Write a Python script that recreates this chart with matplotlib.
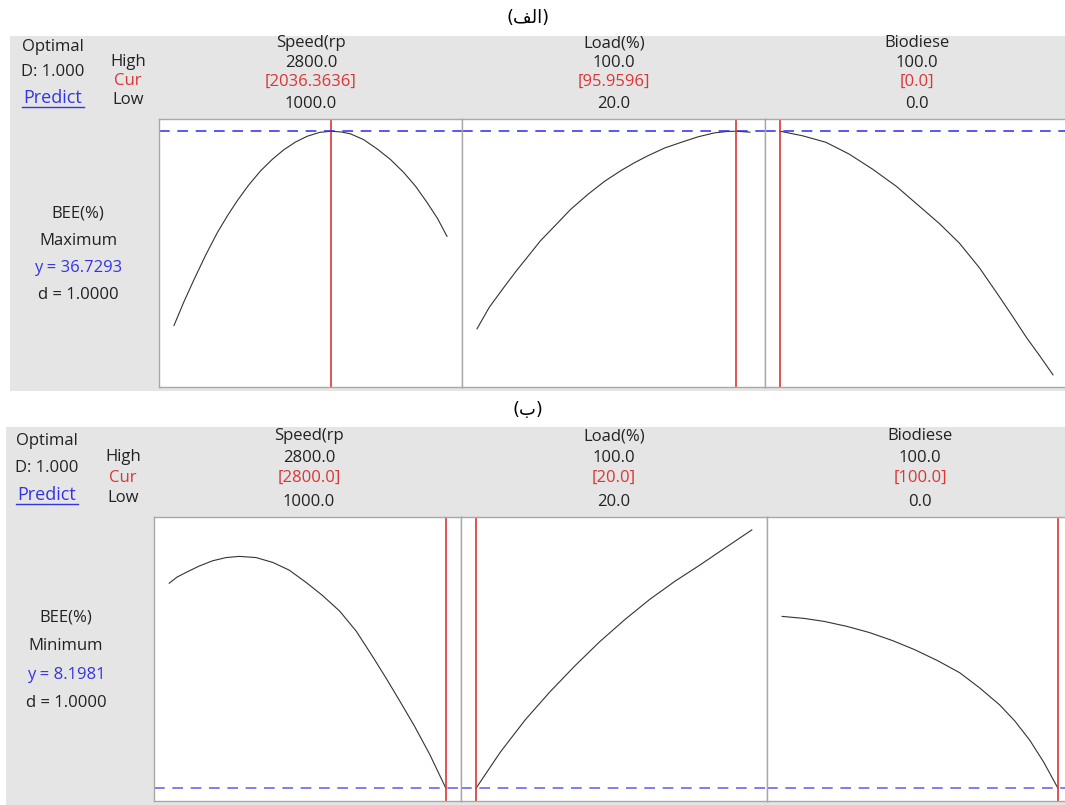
import matplotlib
matplotlib.use('Agg')
import matplotlib.pyplot as plt
from matplotlib.patches import Rectangle
from matplotlib.lines import Line2D

# factor settings
factors = ['Speed(rp', 'Load(%)', 'Biodiese']
highs = [2800.0, 100.0, 100.0]
lows = [1000.0, 20.0, 0.0]
cur_a = [2036.3636, 95.9596, 0.0]
cur_b = [2800.0, 20.0, 100.0]
cur_a_txt = ['[2036.3636]', '[95.9596]', '[0.0]']
cur_b_txt = ['[2800.0]', '[20.0]', '[100.0]']

# (a) maximise BEE
speed_a = [1000, 1064, 1132, 1209, 1286, 1354, 1418, 1492, 1571, 1650, 1725, 1802, 1879,
           1961, 2036, 2105, 2164, 2250, 2340, 2428, 2515, 2593, 2670, 2738, 2800]
bee_speed_a = [25.17, 26.55, 27.90, 29.36, 30.70, 31.72, 32.60, 33.52, 34.37, 35.07, 35.63, 36.09, 36.43,
               36.66, 36.73, 36.68, 36.57, 36.23, 35.67, 35.04, 34.27, 33.45, 32.47, 31.53, 30.47]
load_a = [20, 23.6, 28.0, 31.5, 34.9, 38.6, 42.7, 47.4, 52.5, 57.4, 62.3, 66.2, 70.1,
          75.0, 79.9, 84.7, 89.6, 93.2, 95.96, 100]
bee_load_a = [24.97, 26.25, 27.47, 28.41, 29.27, 30.21, 31.07, 32.07, 32.97, 33.75, 34.40, 34.86, 35.27,
              35.73, 36.07, 36.39, 36.63, 36.71, 36.73, 36.67]
bio_a = [0, 8.4, 16.8, 25.3, 33.9, 42.6, 51.0, 58.4, 65.7, 73.1, 80.4, 85.2, 90.2, 95.1, 100]
bee_bio_a = [36.73, 36.45, 36.07, 35.37, 34.47, 33.45, 32.27, 31.23, 30.07, 28.59, 26.87, 25.71,
             24.47, 23.37, 22.23]
y_a = 36.7293

# (b) minimise BEE
speed_b = [1000, 1050, 1109, 1194, 1283, 1370, 1457, 1565, 1674, 1781, 1892, 1996, 2109,
           2218, 2327, 2414, 2500, 2596, 2696, 2800]
bee_speed_b = [20.42, 20.78, 21.06, 21.44, 21.76, 21.95, 22.02, 21.95, 21.66, 21.20, 20.46, 19.70, 18.76,
               17.55, 16.00, 14.72, 13.40, 11.90, 10.20, 8.1981]
load_b = [20, 27.0, 34.2, 41.4, 48.7, 55.9, 63.2, 70.4, 77.7, 84.9, 92.2, 100]
bee_load_b = [8.1981, 10.34, 12.26, 13.94, 15.50, 16.94, 18.26, 19.46, 20.54, 21.50, 22.52, 23.60]
bio_b = [0, 8.0, 15.3, 23.6, 31.6, 40.0, 48.0, 56.4, 64.4, 71.6, 78.9, 84.4, 89.8, 94.9, 100]
bee_bio_b = [18.44, 18.32, 18.14, 17.84, 17.48, 17.00, 16.46, 15.80, 15.08, 14.18, 13.16, 12.20,
             11.06, 9.74, 8.1981]
y_b = 8.1981

W, H = 1065, 805
FS = 12
plt.rcParams['font.family'] = ['Open Sans', 'DejaVu Sans']

fig = plt.figure(figsize=(W / 100, H / 100), dpi=100)

RED = '#d93636'
BLUE = '#3434e6'
DARK = '#222222'


def txt(x, y, s, color=DARK, size=FS, **kw):
    fig.text(x / W, 1 - y / H, s, ha='center', va='center', color=color, fontsize=size, **kw)


def block(title, ty, bg, edges, box_y, cols, rows, side_x, side_y, opt_x, opt_y,
          resp_x, resp_y, goal, yval, curves, cur, cur_txt, dash_col):
    # gray background
    fig.add_artist(Rectangle((bg[0] / W, 1 - bg[3] / H), (bg[2] - bg[0]) / W, (bg[3] - bg[1]) / H,
                             transform=fig.transFigure, facecolor='#e5e5e5', edgecolor='none', zorder=0))
    txt(528, ty, title, color='black', size=13, family=['DejaVu Sans'])

    txt(opt_x, opt_y[0], 'Optimal')
    txt(opt_x, opt_y[1], 'D: 1.000')
    txt(opt_x, opt_y[2], 'Predict', color=BLUE, size=FS + 1)
    fig.add_artist(Line2D([(opt_x - 31) / W, (opt_x + 31) / W], [1 - (opt_y[2] + 9) / H] * 2,
                          transform=fig.transFigure, color=BLUE, lw=1))
    txt(side_x, side_y[0], 'High')
    txt(side_x, side_y[1], 'Cur', color=RED)
    txt(side_x, side_y[2], 'Low')

    txt(resp_x, resp_y[0], 'BEE(%)')
    txt(resp_x, resp_y[1], goal)
    txt(resp_x, resp_y[2], 'y = %.4f' % yval, color=BLUE)
    txt(resp_x, resp_y[3], 'd = 1.0000')

    allv = [v for c in curves for v in c[1]]
    lo, hi = min(allv), max(allv)
    pad = 0.05 * (hi - lo)
    for i in range(3):
        x0, x1 = edges[i], edges[i + 1]
        ax = fig.add_axes([x0 / W, 1 - box_y[1] / H, (x1 - x0) / W, (box_y[1] - box_y[0]) / H])
        r = highs[i] - lows[i]
        ax.set_xlim(lows[i] - 0.055 * r, highs[i] + 0.055 * r)
        ax.set_ylim(lo - pad, hi + pad)
        ax.plot(curves[i][0], curves[i][1], color='#333333', lw=0.8)
        ax.axvline(cur[i], color=RED, lw=1.2)
        ax.axhline(yval, color=dash_col, lw=1.1, dashes=(7, 5))
        ax.set_xticks([])
        ax.set_yticks([])
        for sp in ax.spines.values():
            sp.set_color('#a8a8a8')
            sp.set_linewidth(1.0)
        cx = cols[i]
        txt(cx, rows[0], factors[i])
        txt(cx, rows[1], '%.1f' % highs[i])
        txt(cx, rows[2], cur_txt[i], color=RED)
        txt(cx, rows[3], '%.1f' % lows[i])


# titles in Arabic presentation forms (visual order)
title_a = '(\uFED2\uFEDF\uFE8D)'
title_b = '(\uFE8F)'

block(title_a, 18, (10, 36, 1065, 391), [159, 462, 765, 1068], (119, 387),
      [311, 614, 917], [43, 63, 82, 104], 128, [62, 81, 100], 53, [47, 72, 98],
      78, [213, 241, 268, 295], 'Maximum', y_a,
      [(speed_a, bee_speed_a), (load_a, bee_load_a), (bio_a, bee_bio_a)],
      cur_a, cur_a_txt, '#2b2bef')

block(title_b, 410, (6, 427, 1065, 805), [154, 461, 767, 1073], (517, 801),
      [309, 614, 920], [436, 458, 478, 502], 123, [457, 478, 498], 47, [441, 468, 495],
      66, [618, 646, 675, 703], 'Minimum', y_b,
      [(speed_b, bee_speed_b), (load_b, bee_load_b), (bio_b, bee_bio_b)],
      cur_b, cur_b_txt, '#5a5aee')

fig.savefig('out.png', dpi=100)
